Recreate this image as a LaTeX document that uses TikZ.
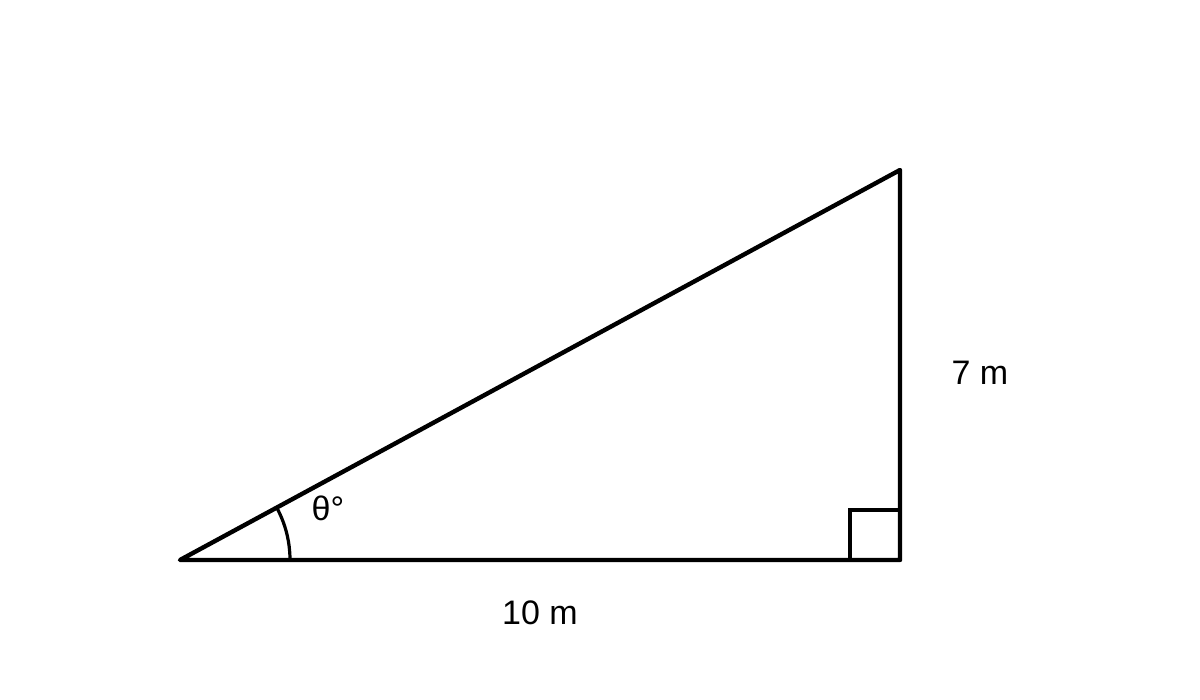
\documentclass[tikz,border=0pt]{standalone}
\usepackage{fontspec}
\setmainfont{Liberation Sans}
\begin{document}
\begin{tikzpicture}[x=0.5pt,y=-0.5pt,
  edge/.style={line width=2.2pt,line cap=round,line join=round},
  lbl/.style={font=\fontsize{17}{20}\selectfont,inner sep=0pt}]
\useasboundingbox (0,0) rectangle (1200,700);
\coordinate (A) at (180,560);
\coordinate (B) at (900,560);
\coordinate (C) at (900,170);
\draw[edge] (A) -- (B) -- (C) -- cycle;
\draw[line width=1.8pt] (850,560) -- (850,510) -- (900,510);
\draw[line width=1.6pt] (290,560) arc[start angle=0,end angle=-28.44,radius=110];
\node[lbl] (t) at (328,508) {θ°};
\node[lbl] (h) at (980,373) {7 m};
\node[lbl] (w) at (540,613) {10 m};
\end{tikzpicture}
\end{document}
